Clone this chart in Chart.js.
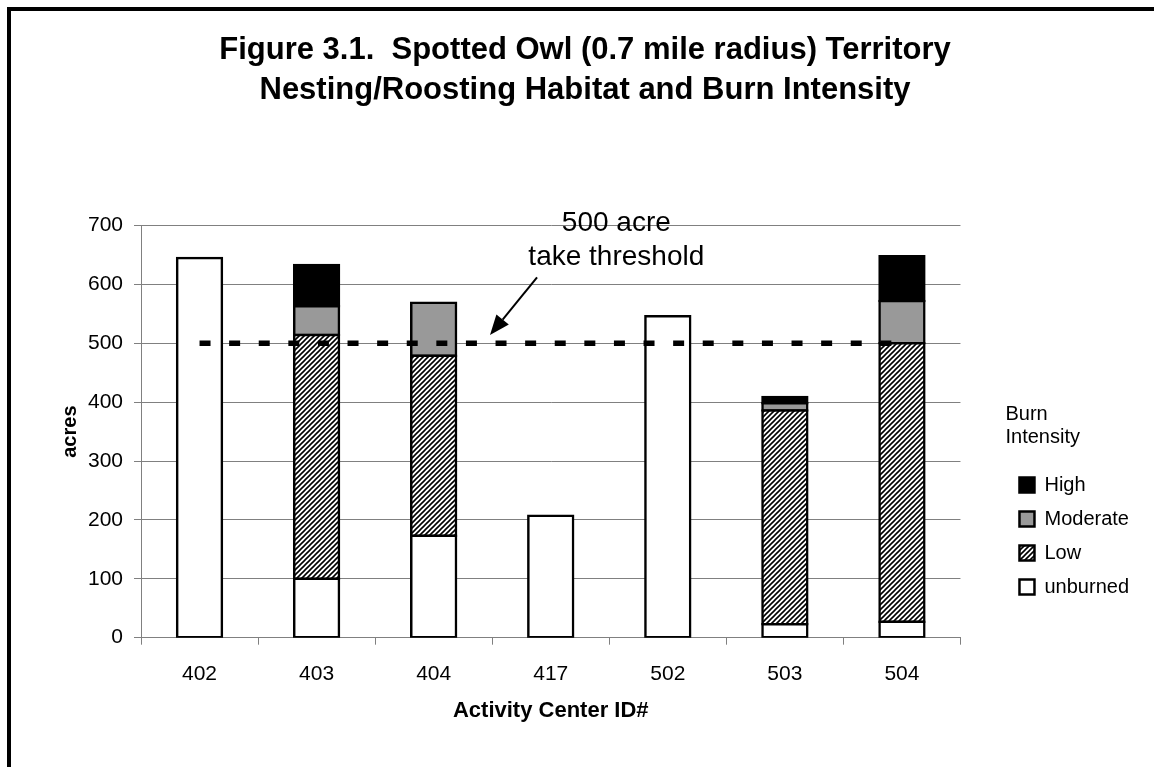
<!DOCTYPE html>
<html><head><meta charset="utf-8">
<script src="https://cdn.jsdelivr.net/npm/chart.js@4.4.1/dist/chart.umd.min.js"></script>
<style>
html,body{margin:0;padding:0;background:#fff;overflow:hidden;width:1154px;height:767px;}
#frame{position:absolute;left:7px;top:7px;width:1300px;height:900px;border:4px solid #000;box-sizing:border-box;}
#wrap{position:absolute;left:0;top:0;width:1154px;height:767px;}
</style></head><body>
<div id="frame"></div>
<div id="wrap"><canvas id="c"></canvas></div>
<script>
// ---- data ----
const categories = ['402', '403', '404', '417', '502', '503', '504'];
const unburned   = [645, 100, 173, 207, 546, 23, 27];
const low        = [null, 414, 306, null, null, 363, 473];
const moderate   = [null, 49, 90, null, null, 12, 72];
const high       = [null, 70, null, null, null, 11, 76];
const threshold  = [500, 500, 500, 500, 500, 500, 500];
const yTickValues = [0, 100, 200, 300, 400, 500, 600, 700];
const noteLines = ['500 acre', 'take threshold'];

const FONT = '"Liberation Sans", Arial, Helvetica, sans-serif';

// hatch pattern for "Low"
function makeHatch() {
  const s = 5;
  const c = document.createElement('canvas');
  c.width = s; c.height = s;
  const g = c.getContext('2d');
  g.fillStyle = '#fff'; g.fillRect(0, 0, s, s);
  g.strokeStyle = '#000'; g.lineWidth = 1.6;
  g.beginPath();
  g.moveTo(0, s); g.lineTo(s, 0);
  g.moveTo(-1, 1); g.lineTo(1, -1);
  g.moveTo(s - 1, s + 1); g.lineTo(s + 1, s - 1);
  g.stroke();
  return document.getElementById('c').getContext('2d').createPattern(c, 'repeat');
}
const hatch = makeHatch();

const barStyle = {
  borderColor: '#000', borderWidth: 2.5, borderSkipped: false, inflateAmount: 1.25,
  barPercentage: 0.383, categoryPercentage: 1.0, order: 1, stack: 'burn'
};

const noteArrow = { // annotation anchors in data space (category index, acres)
  textIndex: 3.56, textValues: [704, 646],
  tail: [2.883, 612], tip: [2.481, 514]
};

const notePlugin = {
  id: 'thresholdNote',
  afterDatasetsDraw(chart) {
    const {ctx, scales: {x, y}} = chart;
    ctx.save();
    ctx.fillStyle = '#000';
    ctx.font = '28px ' + FONT;
    ctx.textAlign = 'center';
    ctx.textBaseline = 'middle';
    const tx = x.getPixelForValue(noteArrow.textIndex);
    noteLines.forEach((t, i) => ctx.fillText(t, tx, y.getPixelForValue(noteArrow.textValues[i])));
    const x1 = x.getPixelForValue(noteArrow.tail[0]), y1 = y.getPixelForValue(noteArrow.tail[1]);
    const x2 = x.getPixelForValue(noteArrow.tip[0]), y2 = y.getPixelForValue(noteArrow.tip[1]);
    const ang = Math.atan2(y2 - y1, x2 - x1);
    const hl = 20, hw = 8;
    const bx = x2 - hl * Math.cos(ang), by = y2 - hl * Math.sin(ang);
    ctx.strokeStyle = '#000'; ctx.lineWidth = 2;
    ctx.beginPath(); ctx.moveTo(x1, y1); ctx.lineTo(bx, by); ctx.stroke();
    ctx.beginPath();
    ctx.moveTo(x2, y2);
    ctx.lineTo(bx + hw * Math.sin(ang), by - hw * Math.cos(ang));
    ctx.lineTo(bx - hw * Math.sin(ang), by + hw * Math.cos(ang));
    ctx.closePath(); ctx.fill();
    ctx.restore();
  }
};

const legendShift = {
  id: 'legendShift',
  afterLayout(chart) {
    const lg = chart.legend;
    if (lg) { lg.left += 45; lg.right += 45; }
  }
};

Chart.defaults.font.family = FONT;
Chart.defaults.color = '#000';

new Chart(document.getElementById('c'), {
  type: 'bar',
  data: {
    labels: categories,
    datasets: [
      Object.assign({label: 'unburned', data: unburned, backgroundColor: '#ffffff'}, barStyle),
      Object.assign({label: 'Low', data: low, backgroundColor: hatch}, barStyle),
      Object.assign({label: 'Moderate', data: moderate, backgroundColor: '#999999'}, barStyle),
      Object.assign({label: 'High', data: high, backgroundColor: '#000000'}, barStyle),
      {type: 'line', label: 'threshold', data: threshold, borderColor: '#000', borderWidth: 5.5,
       borderDash: [11, 18.6], borderCapStyle: 'butt', pointRadius: 0, fill: false, order: 0,
       stack: 'line', tension: 0}
    ]
  },
  options: {
    responsive: true, maintainAspectRatio: false, animation: false,
    layout: {padding: {left: 76, right: 60, top: 0, bottom: 0}},
    plugins: {
      tooltip: {enabled: false},
      title: {
        display: true,
        text: ['Figure 3.1.  Spotted Owl (0.7 mile radius) Territory', 'Nesting/Roosting Habitat and Burn Intensity'],
        font: {size: 31, weight: 'bold', lineHeight: 1.27},
        color: '#000',
        padding: {top: 31, bottom: 115.8}
      },
      legend: {
        position: 'right', align: 'start', reverse: true,
        title: {display: true, text: ['Burn', 'Intensity'], position: 'start',
                font: {size: 20, lineHeight: 1.15}, padding: {top: 404, bottom: 34}},
        labels: {
          font: {size: 20}, boxWidth: 15, boxHeight: 15, padding: 14,
          filter: (item) => item.text !== 'threshold'
        }
      }
    },
    scales: {
      x: {
        stacked: true,
        grid: {display: true, offset: true, drawOnChartArea: false, drawTicks: true, tickLength: 7, color: '#808080'},
        border: {display: true, color: '#808080'},
        ticks: {font: {size: 21}, color: '#000', padding: 17},
        title: {display: true, text: 'Activity Center ID#', font: {size: 22, weight: 'bold'}, padding: {top: 0, bottom: 43}},
        afterFit(scale) { scale.height = 129.3; }
      },
      y: {
        stacked: true, min: 0, max: 700,
        grid: {color: '#808080', tickLength: 7, drawTicks: true},
        border: {display: true, color: '#808080'},
        ticks: {font: {size: 21}, color: '#000', padding: 11, stepSize: 100,
                callback: (v) => yTickValues.includes(v) ? String(v) : ''},
        title: {display: true, text: 'acres', font: {size: 20, weight: 'bold'}, padding: {top: -18, bottom: 0}},
        afterFit(scale) { scale.width = 65; }
      }
    }
  },
  plugins: [notePlugin, legendShift]
});
</script>
</body></html>
